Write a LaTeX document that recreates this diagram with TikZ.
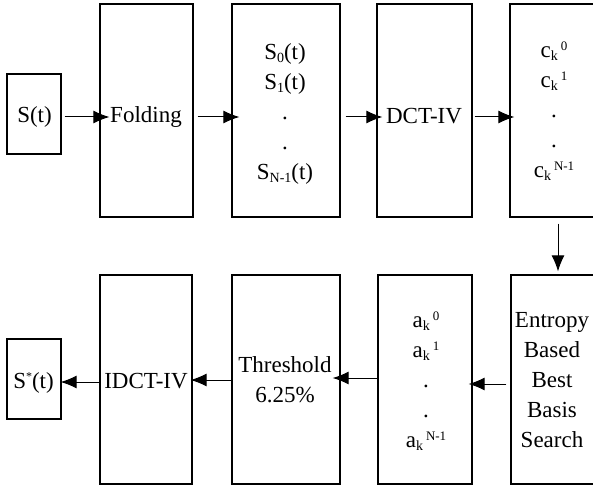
\documentclass[tikz,border=0pt]{standalone}
\usepackage{fontspec}
\setmainfont{Liberation Serif}
\usetikzlibrary{arrows.meta}
\newcommand\mysub[1]{\raisebox{-3pt}{\fontsize{14}{14}\selectfont #1}}
\newcommand\mysup[1]{\hspace{3pt}\raisebox{7pt}{\fontsize{13}{13}\selectfont #1}}
\newcommand\myfnt{\fontsize{23}{30}\selectfont}
\tikzset{
  box/.style={draw, line width=1.2pt, inner sep=0pt},
  arr/.style={line width=1pt, -{Latex[length=16pt,width=13pt]}},
  lbl/.style={inner sep=0pt, anchor=base, font=\myfnt}
}
\begin{document}
\begin{tikzpicture}[x=1pt,y=-1pt]
\useasboundingbox (0,0) rectangle (593,486);
% boxes
\node[box, minimum width=54pt, minimum height=80pt] (s) at (34,114) {};
\node[box, minimum width=93pt, minimum height=213pt] (fold) at (146.5,110.5) {};
\node[box, minimum width=108pt, minimum height=213pt] (sn) at (286,110.5) {};
\node[box, minimum width=95pt, minimum height=213pt] (dct) at (424.5,110.5) {};
\node[box, minimum width=96pt, minimum height=213pt] (ck) at (558,110.5) {};
\node[box, minimum width=94pt, minimum height=209pt] (ent) at (558,379.5) {};
\node[box, minimum width=94pt, minimum height=209pt] (ak) at (425,379.5) {};
\node[box, minimum width=108pt, minimum height=209pt] (thr) at (286,379.5) {};
\node[box, minimum width=92pt, minimum height=209pt] (idct) at (146,379.5) {};
\node[box, minimum width=54pt, minimum height=80pt] (ss) at (34,379) {};
% texts
\node[lbl] (sT) at (34.5,123) {S(t)};
\node[lbl] (foldT) at (146,123) {Folding};
\node[lbl] (snT) at (285,60) {\begin{tabular}[t]{@{}c@{}}
S\mysub{0}(t)\\ S\mysub{1}(t)\\ .\\ .\\ S\mysub{N-1}(t)\end{tabular}};
\node[lbl] (dctT) at (424,124) {DCT-IV};
\node[lbl] (ckT) at (554,58) {\begin{tabular}[t]{@{}c@{}}
c\mysub{k}\mysup{0}\\ c\mysub{k}\mysup{1}\\ .\\ .\\ c\mysub{k}\mysup{N-1}\end{tabular}};
\node[lbl] (entT) at (552,327) {\begin{tabular}[t]{@{}c@{}}
Entropy\\ Based\\ Best\\ Basis\\ Search\end{tabular}};
\node[lbl] (akT) at (426,327) {\begin{tabular}[t]{@{}c@{}}
a\mysub{k}\mysup{0}\\ a\mysub{k}\mysup{1}\\ .\\ .\\ a\mysub{k}\mysup{N-1}\end{tabular}};
\node[lbl] (thrT) at (285,372) {\begin{tabular}[t]{@{}c@{}}
Threshold\\ 6.25\%\end{tabular}};
\node[lbl] (idctT) at (146,388) {IDCT-IV};
\node[lbl] (ssT) at (33.5,388) {S\raisebox{8pt}{\fontsize{12}{12}\selectfont *}(t)};
% arrow rows
\coordinate (r1) at (0,117);
\coordinate (r2) at (0,384);
\coordinate (r3) at (0,378);
\coordinate (r4) at (0,380);
\coordinate (r5) at (0,382);
% connectors
\draw[arr, shorten <=3pt, shorten >=-10pt] (s.east |- r1) -- (fold.west |- r1);
\draw[arr, shorten <=4pt, shorten >=-8pt] (fold.east |- r1) -- (sn.west |- r1);
\draw[arr, shorten <=5pt, shorten >=-6pt] (sn.east |- r1) -- (dct.west |- r1);
\draw[arr, shorten <=2pt, shorten >=-5pt] (dct.east |- r1) -- (ck.west |- r1);
\draw[arr, shorten <=6pt, shorten >=3pt] (ck.south) -- (ent.north);
\draw[arr, shorten <=4pt, shorten >=-4pt] (ent.west |- r2) -- (ak.east |- r2);
\draw[arr, shorten >=-8pt] (ak.west |- r3) -- (thr.east |- r3);
\draw[arr, shorten >=-2pt] (thr.west |- r4) -- (idct.east |- r4);
\draw[arr, shorten >=-1pt] (idct.west |- r5) -- (ss.east |- r5);
\end{tikzpicture}
\end{document}
